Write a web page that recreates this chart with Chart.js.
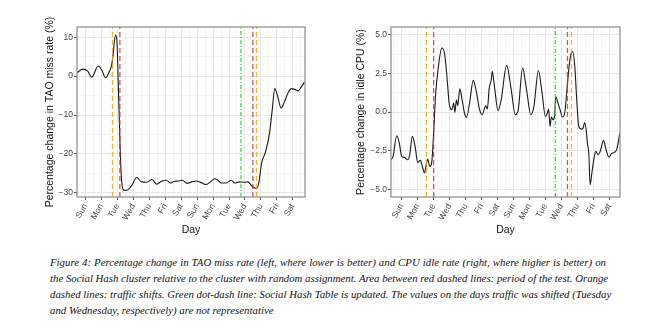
<!DOCTYPE html>
<html>
<head>
<meta charset="utf-8">
<script src="https://cdn.jsdelivr.net/npm/chart.js@4.4.0/dist/chart.umd.min.js"></script>
<style>
  body { margin: 0; background: #fff; width: 656px; height: 332px; position: relative; overflow: hidden; }
  .panel { position: absolute; top: 0; width: 328px; height: 239px; }
  #caption { position: absolute; left: 50px; top: 254px; width: 556px;
    font: italic 10.8px "Liberation Serif", "DejaVu Serif", serif; line-height: 16px; color: #111; }
  #caption div { white-space: nowrap; text-align: justify; text-align-last: justify; }
  #caption div.last { text-align-last: left; }
</style>
</head>
<body>
<div class="panel" style="left:0"><canvas id="missChart" width="328" height="239"></canvas></div>
<div class="panel" style="left:328px"><canvas id="cpuChart" width="328" height="239"></canvas></div>
<div id="caption">
  <div>Figure 4: Percentage change in TAO miss rate (left, where lower is better) and CPU idle rate (right, where higher is better) on</div>
  <div>the Social Hash cluster relative to the cluster with random assignment. Area between red dashed lines: period of the test. Orange</div>
  <div>dashed lines: traffic shifts. Green dot-dash line: Social Hash Table is updated. The values on the days traffic was shifted (Tuesday</div>
  <div class="last">and Wednesday, respectively) are not representative</div>
</div>
<script>
// day labels, one per integer day (Sun = 0)
const dayNames = ['Sun', 'Mon', 'Tue', 'Wed', 'Thu', 'Fri', 'Sat', 'Sun', 'Mon', 'Tue', 'Wed', 'Thu', 'Fri', 'Sat']

// left: TAO miss rate change (%)
const missDays = [-0.54, -0.17, 0.13, 0.38, 0.79, 1.02, 1.25, 1.46, 1.63, 1.71, 1.875, 1.96, 2.08, 2.21, 2.33, 2.46,
  2.67, 2.9, 3.21, 3.52, 3.83, 4.17, 4.46, 4.79, 5.08, 5.33, 5.54, 5.8, 6.08, 6.37, 6.67, 6.96, 7.25, 7.58, 7.83,
  8.1, 8.31, 8.52, 8.83, 9.15, 9.35, 9.67, 9.98, 10.19, 10.4, 10.6, 10.75, 10.88, 11.04, 11.29, 11.54, 11.71,
  11.875, 12.04, 12.27, 12.48, 12.71, 12.92, 13.13, 13.33, 13.52, 13.73]
const missValues = [0.9, 1.8, 1.3, -0.3, 2.6, 1.5, -0.4, 0.9, 2.8, 5, 10.6, 9.3, -6.2, -23.3, -28.9, -29.4,
  -29.2, -28.1, -26.1, -27.2, -27.3, -26.6, -27.8, -27.0, -26.8, -27.5, -27.1, -27.0, -26.8, -27.6, -27.2, -27.0, -27.4, -27.9, -27.2,
  -26.4, -26.8, -27.5, -27.5, -26.8, -27.5, -27.2, -27.3, -27.2, -28.1, -28.8, -28.9, -27.2, -22.5, -19.5, -14.8, -8.8,
  -3.2, -4.9, -8.2, -6.6, -4.3, -3.2, -3.4, -3.8, -2.9, -1.5]
const missShiftDays = [1.69, 10.73]
const missTestDays = [2.15, 10.5]
const missUpdateDay = 9.75
const missRange = [-31.1, 12.65]
const missTicks = [-30, -25, -20, -15, -10, -5, 0, 5, 10]

// right: idle CPU change (%)
const cpuDays = [-0.67, -0.54, -0.31, -0.15, 0, 0.17, 0.38, 0.5, 0.67, 0.84, 1.0, 1.17, 1.32, 1.42, 1.5, 1.63, 1.76, 1.88,
  2.0, 2.13, 2.3, 2.51, 2.68, 2.85, 2.97, 3.14, 3.26, 3.33, 3.43, 3.51, 3.64, 3.79, 3.93, 4.06, 4.25, 4.48, 4.67, 4.87,
  5.04, 5.19, 5.27, 5.36, 5.48, 5.61, 5.67, 5.82, 6.03, 6.23, 6.57, 6.86, 7.11, 7.28, 7.57, 7.82, 8.08, 8.28, 8.56,
  8.79, 9.0, 9.12, 9.2, 9.29, 9.37, 9.48, 9.58, 9.64, 9.79, 9.92, 10.06, 10.21, 10.33, 10.46, 10.59, 10.71, 10.84,
  10.96, 11.09, 11.26, 11.36, 11.46, 11.55, 11.63, 11.72, 11.8, 11.92, 12.03, 12.15, 12.3, 12.43, 12.64, 12.8,
  12.97, 13.14, 13.31, 13.47, 13.66]
const cpuValues = [-3.08, -2.87, -1.53, -2.0, -2.87, -2.93, -3.08, -2.76, -1.57, -2.22, -3.25, -3.12, -3.62, -3.94, -3.62, -3.04, -3.51, -3.25,
  -1.36, 1.23, 2.95, 4.14, 3.81, 2.09, 0.58, 0.15, 0.58, -0.02, 0.8, 0.41, 1.5, 0.75, -0.06, -0.34, 0.58, 2.05, 1.34, 0.19,
  -0.17, 0.26, 0.41, 0.19, 1.55, 2.09, 2.63, 1.55, 0.09, 0.8, 3.02, 1.44, -0.17, 0.04, 2.84, 1.44, -0.17, 0.37, 2.69,
  1.23, -0.28, -0.06, 0.19, -0.93, -0.32, -0.5, -0.24, 1.01, 0.58, 0.15, -0.32, -0.06, 1.23, 2.74, 3.71, 3.92, 2.95,
  0.8, -0.93, -1.1, -1.03, -0.67, -1.14, -2.0, -2.76, -4.7, -3.84, -3.08, -2.54, -2.76, -2.54, -1.83, -2.44,
  -2.91, -2.69, -2.61, -2.39, -1.36]
const cpuShiftDays = [1.55, 10.63]
const cpuTestDays = [2.0, 10.38]
const cpuUpdateDay = 9.62
const cpuRange = [-5.49, 5.5]
const cpuTicks = [-5, -3.75, -2.5, -1.25, 0, 1.25, 2.5, 3.75, 5]

const minus = v => String(v).replace('-', '\u2212')

// grey frame round the panel, like ggplot theme_bw
const panelBorder = {
  id: 'panelBorder',
  afterDraw(chart) {
    const { ctx, chartArea: a } = chart
    ctx.save()
    ctx.strokeStyle = '#8a8a8a'
    ctx.lineWidth = 1.2
    ctx.strokeRect(a.left, a.top, a.right - a.left, a.bottom - a.top)
    ctx.restore()
  }
}

function vline(x, range, color, dash, order) {
  return {
    data: [{ x: x, y: range[0] }, { x: x, y: range[1] }],
    borderColor: color, borderWidth: 1.3, borderDash: dash,
    pointRadius: 0, order: order
  }
}

function makeChart(id, o) {
  const xTicks = []
  for (let d = -0.5; d <= 13.5; d += 0.5) xTicks.push(d)
  const datasets = [
    { data: o.days.map((d, i) => ({ x: d, y: o.values[i] })), borderColor: '#1a1a1a', borderWidth: 1.1,
      pointRadius: 0, cubicInterpolationMode: 'monotone', order: 2 }
  ]
  o.shift.forEach(d => datasets.push(vline(d, o.range, 'rgba(255,165,0,0.8)', [5, 3], 1)))
  o.test.forEach(d => datasets.push(vline(d, o.range, 'rgba(240,30,30,0.8)', [5, 3], 0)))
  datasets.push(vline(o.update, o.range, 'rgba(40,220,40,0.9)', [4, 2, 1, 2], 1))

  return new Chart(document.getElementById(id), {
    type: 'line',
    data: { datasets: datasets },
    options: {
      responsive: false,
      animation: false,
      layout: { padding: { left: o.padLeft, right: o.padRight, top: o.padTop, bottom: 0 } },
      plugins: { legend: { display: false }, tooltip: { enabled: false } },
      scales: {
        x: {
          type: 'linear', min: o.xMin, max: o.xMax,
          afterBuildTicks: s => { s.ticks = xTicks.map(v => ({ value: v })) },
          afterFit: s => { s.height = o.xHeight; s.paddingLeft = 0; s.paddingRight = 0 },
          ticks: {
            autoSkip: false, minRotation: 60, maxRotation: 60, padding: 2,
            color: '#444', font: { family: 'Liberation Sans', size: 8.5 },
            callback: v => Number.isInteger(v) ? dayNames[v] : ''
          },
          grid: {
            color: c => Number.isInteger(c.tick.value) ? '#e8e8e8' : '#f4f4f4',
            tickColor: c => Number.isInteger(c.tick.value) ? '#555' : 'rgba(0,0,0,0)',
            tickLength: 3, lineWidth: 1
          },
          border: { display: false },
          title: { display: true, text: 'Day', color: '#111', font: { family: 'Liberation Sans', size: 10.5 }, padding: { top: 2, bottom: 3 } }
        },
        y: {
          min: o.range[0], max: o.range[1],
          afterBuildTicks: s => { s.ticks = o.yTicks.map(v => ({ value: v })) },
          afterFit: s => { s.width = o.yWidth; s.paddingTop = 0; s.paddingBottom = 0 },
          ticks: {
            padding: 1, color: '#444', font: { family: 'Liberation Sans', size: 8.5 },
            callback: v => o.yMajor(v) ? minus(o.yFormat(v)) : ''
          },
          grid: {
            color: c => o.yMajor(c.tick.value) ? '#e8e8e8' : '#f4f4f4',
            tickColor: c => o.yMajor(c.tick.value) ? '#555' : 'rgba(0,0,0,0)',
            tickLength: 3, lineWidth: 1
          },
          border: { display: false },
          title: { display: true, text: o.yTitle, color: '#111', font: { family: 'Liberation Sans', size: 10.5 }, padding: { top: 4, bottom: 2 } }
        }
      }
    },
    plugins: [panelBorder]
  })
}

makeChart('missChart', {
  days: missDays, values: missValues, shift: missShiftDays, test: missTestDays, update: missUpdateDay,
  range: missRange, yTicks: missTicks, xMin: -0.54, xMax: 13.77,
  yMajor: v => v % 10 === 0, yFormat: v => v,
  yTitle: 'Percentage change in TAO miss rate (%)',
  padLeft: 40, padRight: 23, padTop: 27, yWidth: 37, xHeight: 42
})

makeChart('cpuChart', {
  days: cpuDays, values: cpuValues, shift: cpuShiftDays, test: cpuTestDays, update: cpuUpdateDay,
  range: cpuRange, yTicks: cpuTicks, xMin: -0.67, xMax: 13.67,
  yMajor: v => Math.abs(v % 2.5) < 1e-9, yFormat: v => v.toFixed(1),
  yTitle: 'Percentage change in idle CPU (%)',
  padLeft: 23, padRight: 36, padTop: 27, yWidth: 40, xHeight: 42
})
</script>
</body>
</html>
